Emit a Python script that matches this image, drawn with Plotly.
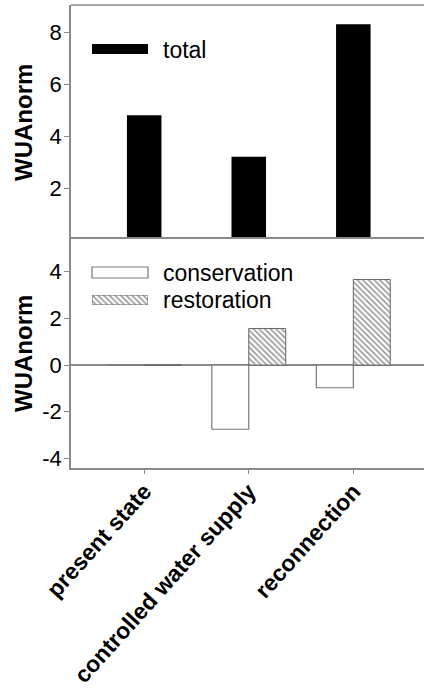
import plotly.graph_objects as go

categories = ["present state", "controlled water supply", "reconnection"]
total = [4.8, 3.2, 8.3]
conservation = [0.0, -2.75, -0.97]
restoration = [0.0, 1.57, 3.67]
top_ticks = [2, 4, 6, 8]
bottom_ticks = [-4, -2, 0, 2, 4]
bottom_tick_labels = ["-4", "-2", "0", "2", "4"]

FONT = "Liberation Sans, Arial, sans-serif"
AX = "#8a8a8a"

W, H = 424, 696
L, R, T, B = 71, 0, 5, 228
PW, PH = W - L - R, H - T - B


def px(x):
    return (x - L) / PW


def py(y):
    return (H - B - y) / PH


split = py(237)
xpos = list(range(len(categories)))
HATCH = dict(shape="\\", fgcolor="#333", bgcolor="white", size=4, solidity=0.4)

fig = go.Figure()
fig.add_trace(go.Bar(x=xpos, y=total, name="total", marker=dict(color="black", line=dict(width=0)),
                     width=0.33, xaxis="x", yaxis="y", showlegend=False))
fig.add_trace(go.Bar(x=xpos, y=conservation, name="conservation",
                     marker=dict(color="white", line=dict(color="#7a7a7a", width=1.2)),
                     xaxis="x2", yaxis="y2", showlegend=False))
fig.add_trace(go.Bar(x=xpos, y=restoration, name="restoration",
                     marker=dict(color="white", line=dict(color="#666", width=1), pattern=HATCH),
                     xaxis="x2", yaxis="y2", showlegend=False))
# legend swatch for hatched series
fig.add_trace(go.Bar(x=[0], y=[1], width=1,
                     marker=dict(color="white", line=dict(color="#666", width=1), pattern=HATCH),
                     xaxis="x3", yaxis="y3", showlegend=False, hoverinfo="skip"))

xr = [-0.7, 2.676]
fig.update_layout(
    width=W, height=H, margin=dict(l=L, r=R, t=T, b=B, autoexpand=False),
    paper_bgcolor="white", plot_bgcolor="white",
    barmode="group", bargap=0.293, bargroupgap=0,
    font=dict(family=FONT, color="black"),
    xaxis=dict(domain=[0, 1], anchor="y", range=xr, showline=True, linecolor=AX, linewidth=1.5,
               showticklabels=False, ticks="", showgrid=False, zeroline=False, automargin=False),
    yaxis=dict(domain=[split, 1], anchor="x", range=[0.115, 9.04], tickvals=top_ticks,
               showline=True, linecolor=AX, linewidth=1.5, ticks="outside", ticklen=5, tickcolor=AX,
               tickfont=dict(size=22), showgrid=False, zeroline=False, ticklabelstandoff=-2,
               automargin=False),
    xaxis2=dict(domain=[0, 1], anchor="y2", range=xr, tickvals=xpos, ticktext=categories,
                tickangle=-48, showline=True, linecolor=AX, linewidth=1.5, ticks="outside", ticklen=4,
                tickcolor=AX, tickfont=dict(size=23, family="Liberation Sans, Arial", weight="bold"),
                showgrid=False, zeroline=False, automargin=False, ticklabelstandoff=-5),
    yaxis2=dict(domain=[0, split], anchor="x2", range=[-4.41, 5.49], tickvals=bottom_ticks,
                ticktext=bottom_tick_labels,
                showline=True, linecolor=AX, linewidth=1.5, ticks="outside", ticklen=5, tickcolor=AX,
                tickfont=dict(size=22), showgrid=False, zeroline=True, zerolinecolor=AX, zerolinewidth=1.5,
                ticklabelstandoff=-2, automargin=False),
    xaxis3=dict(domain=[px(92), px(148)], anchor="y3", range=[-0.5, 0.5], visible=False, automargin=False),
    yaxis3=dict(domain=[py(305), py(295)], anchor="x3", range=[0, 1], visible=False, automargin=False),
)

# top border of the upper panel
fig.add_shape(type="line", xref="paper", yref="paper", x0=0, x1=1, y0=1, y1=1,
              line=dict(color=AX, width=1.5))
# legend swatches
fig.add_shape(type="rect", xref="paper", yref="paper", x0=px(92), x1=px(148), y0=py(54), y1=py(44),
              fillcolor="black", line=dict(width=0))
fig.add_shape(type="rect", xref="paper", yref="paper", x0=px(92), x1=px(148), y0=py(278), y1=py(267),
              fillcolor="white", line=dict(color="#7a7a7a", width=1.2))

for txt, yy in [("total", 50), ("conservation", 273), ("restoration", 300)]:
    fig.add_annotation(text=txt, xref="paper", yref="paper", x=px(161), y=py(yy), xanchor="left",
                       yanchor="middle", showarrow=False, font=dict(size=23, family=FONT))

for yy in [122, 353]:
    fig.add_annotation(text="<b>WUAnorm</b>", xref="paper", yref="paper", x=px(23), y=py(yy),
                       xanchor="center", yanchor="middle", textangle=-90, showarrow=False,
                       font=dict(size=24, family=FONT))

fig.write_html("out.html", config={"displayModeBar": False},
               post_script="document.body.style.margin='0';")
